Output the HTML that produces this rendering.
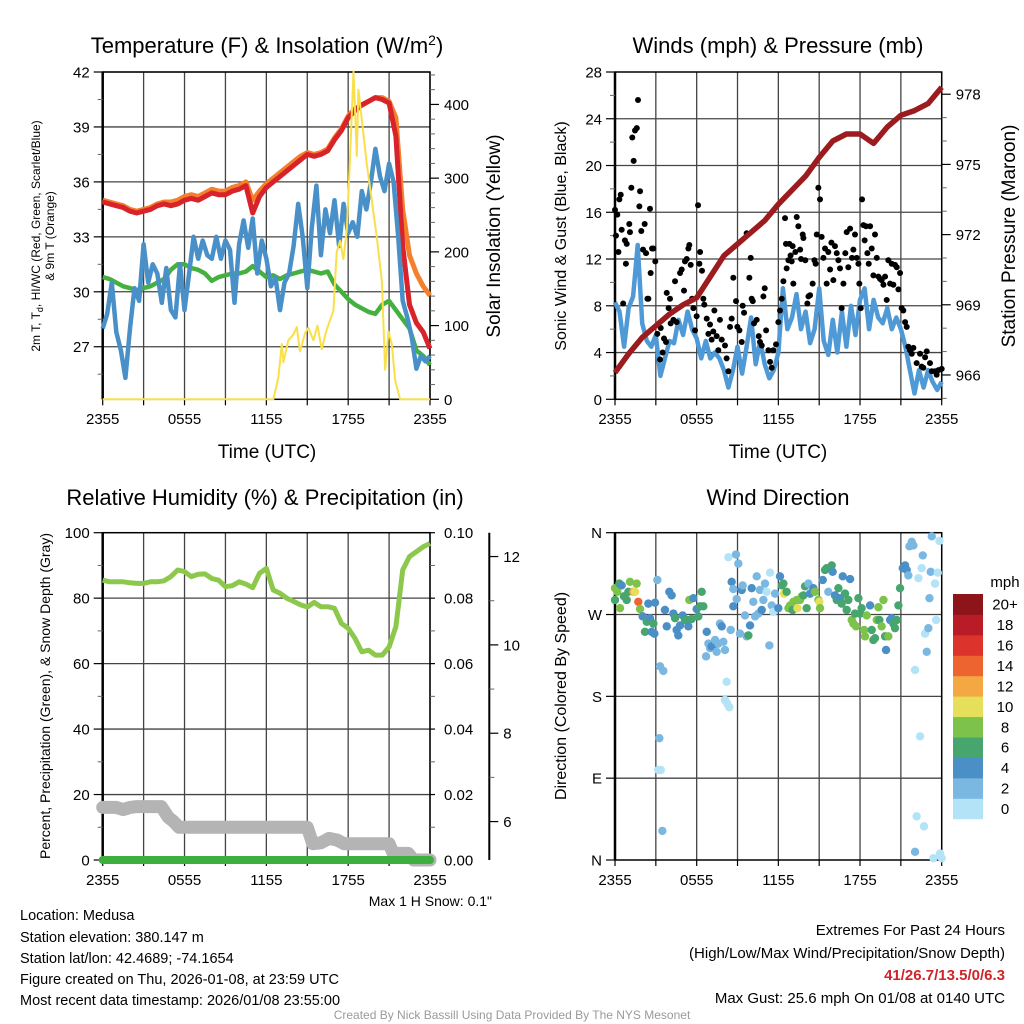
<!DOCTYPE html>
<html><head><meta charset="utf-8"><style>
html,body{margin:0;padding:0;background:#fff}
svg{display:block;font-family:"Liberation Sans",Arial,sans-serif}
</style></head><body>
<svg id="fig" width="1024" height="1024" viewBox="0 0 1024 1024" xmlns="http://www.w3.org/2000/svg">
<rect width="1024" height="1024" fill="#fff"/>
<g id="layer"></g>
<text x="267" y="53" font-size="22" text-anchor="middle">Temperature (F) &amp; Insolation (W/m<tspan dy="-8" font-size="14">2</tspan><tspan dy="8">)</tspan></text>
<text x="778" y="53" font-size="22" text-anchor="middle">Winds (mph) &amp; Pressure (mb)</text>
<text x="265" y="505" font-size="22" text-anchor="middle">Relative Humidity (%) &amp; Precipitation (in)</text>
<text x="778" y="505" font-size="22" text-anchor="middle">Wind Direction</text>
<text x="267" y="458" font-size="19" text-anchor="middle">Time (UTC)</text>
<text x="778" y="458" font-size="19" text-anchor="middle">Time (UTC)</text>
<text transform="translate(40,236) rotate(-90)" font-size="12" text-anchor="middle">2m T, T<tspan dy="3" font-size="9">d</tspan><tspan dy="-3">, HI/WC (Red, Green, Scarlet/Blue)</tspan></text>
<text transform="translate(54,236) rotate(-90)" font-size="12" text-anchor="middle">&amp; 9m T (Orange)</text>
<text transform="translate(500,236) rotate(-90)" font-size="19" text-anchor="middle">Solar Insolation (Yellow)</text>
<text transform="translate(566,236) rotate(-90)" font-size="16" text-anchor="middle">Sonic Wind &amp; Gust (Blue, Black)</text>
<text transform="translate(1015,236) rotate(-90)" font-size="19" text-anchor="middle">Station Pressure (Maroon)</text>
<text transform="translate(50,696) rotate(-90)" font-size="14" text-anchor="middle">Percent, Precipitation (Green), &amp; Snow Depth (Gray)</text>
<text transform="translate(566,696) rotate(-90)" font-size="16" text-anchor="middle">Direction (Colored By Speed)</text>
<text x="1005" y="587" font-size="15" text-anchor="middle">mph</text>
<text x="492" y="906" font-size="14" text-anchor="end">Max 1 H Snow: 0.1"</text>
<g font-size="14.5">
<text x="20" y="920">Location: Medusa</text>
<text x="20" y="942">Station elevation: 380.147 m</text>
<text x="20" y="963">Station lat/lon: 42.4689; -74.1654</text>
<text x="20" y="984">Figure created on Thu, 2026-01-08, at 23:59 UTC</text>
<text x="20" y="1005">Most recent data timestamp: 2026/01/08 23:55:00</text>
</g>
<g font-size="15" text-anchor="end">
<text x="1005" y="935">Extremes For Past 24 Hours</text>
<text x="1005" y="958">(High/Low/Max Wind/Precipitation/Snow Depth)</text>
<text x="1005" y="980" fill="#d0242a" font-weight="bold">41/26.7/13.5/0/6.3</text>
<text x="1005" y="1003">Max Gust: 25.6 mph On 01/08 at 0140 UTC</text>
</g>
<text x="512" y="1019" font-size="12" fill="#9a9a9a" text-anchor="middle">Created By Nick Bassill Using Data Provided By The NYS Mesonet</text>
</svg>
<script>
// ---------- data ----------
const halfHours = [0,0.5,1,1.5,2,2.5,3,3.5,4,4.5,5,5.5,6,6.5,7,7.5,8,8.5,9,9.5,10,10.5,11,11.5,12,12.5,13,13.5,14,14.5,15,15.5,16,16.5,17,17.5,18,18.5,19,19.5,20,20.5,21,21.5,22,22.5,23,23.5,24];
const tempRed = [34.9,34.8,34.7,34.6,34.4,34.3,34.4,34.5,34.7,34.8,34.7,34.8,35.0,35.1,35.0,35.2,35.4,35.3,35.3,35.5,35.6,35.8,34.3,35.2,35.7,36.0,36.3,36.6,36.9,37.2,37.5,37.4,37.5,37.7,38.3,38.8,39.5,39.9,40.2,40.4,40.6,40.5,40.3,38.5,32.5,29.3,28.3,27.8,26.9];
const temp9mOrange = [35.0,34.9,34.8,34.7,34.5,34.4,34.5,34.6,34.8,34.9,34.9,35.0,35.2,35.3,35.2,35.4,35.6,35.5,35.5,35.7,35.8,36.0,35.0,35.5,35.9,36.2,36.5,36.8,37.1,37.4,37.6,37.5,37.6,37.8,38.4,38.9,39.6,40.0,40.2,40.4,40.6,40.6,40.4,39.5,34.5,32.0,31.0,30.3,29.8];
const dewGreen = [30.8,30.7,30.5,30.3,30.2,30.1,30.2,30.3,30.5,30.7,31.2,31.5,31.5,31.3,31.2,31.0,30.6,30.8,30.9,31.0,31.0,31.1,31.4,31.1,30.8,30.9,30.7,30.9,31.0,31.1,31.2,31.1,31.0,31.1,30.4,30.0,29.6,29.3,29.1,28.9,28.8,29.3,29.5,29.0,28.5,28.0,26.8,26.5,26.0];
const windChillBlue = [28.0,28.8,30.5,27.8,26.8,25.3,28.0,30.2,29.5,32.6,30.5,31.5,31.0,29.4,31.3,29.0,28.6,31.5,29.0,31.0,33.0,31.8,32.8,32.0,31.8,33.0,31.8,32.8,32.3,29.4,32.6,33.9,32.4,34.0,31.0,32.8,31.8,30.3,30.8,29.0,30.5,31.0,32.5,34.8,33.0,30.2,33.5,35.8,32.0,34.5,33.2,35.0,32.5,34.8,33.2,33.8,33.0,35.5,34.5,36.0,37.8,36.3,35.5,37.0,36.0,33.0,29.5,28.6,27.5,25.8,26.5,26.2,26.5];
const solarT = [0,12.52,12.88,13.13,13.25,13.61,13.98,14.23,14.47,14.84,15.08,15.45,15.75,16.06,16.43,16.92,17.16,17.41,17.65,17.9,18.14,18.39,18.63,18.75,19.0,19.36,19.73,20.1,20.47,20.71,20.96,21.2,21.45,21.81,24];
const solarV = [0,0,30,75,50,80,88,98,65,90,97,80,100,68,95,120,200,215,190,230,330,445,330,420,380,320,270,220,160,40,92,75,25,0,0];
const hours = [0,1,2,3,4,5,6,7,8,9,10,11,12,13,14,15,16,17,18,19,20,21,22,23,24];
const pressure = [966.1,966.9,967.6,968.1,968.6,969.0,969.3,970.2,971.1,971.6,972.1,972.6,973.3,973.9,974.5,975.3,976.0,976.3,976.3,975.9,976.6,977.1,977.3,977.6,978.3];
const sonicWind = [8.3,7.5,4.5,7.8,8.8,13.2,6.5,5.0,4.5,5.5,2.0,3.5,5.0,4.8,6.8,5.5,7.5,6.0,5.2,3.5,5.0,3.5,4.0,3.5,2.5,1.0,2.5,4.5,2.2,4.5,7.0,3.0,5.0,3.0,1.8,2.5,4.0,9.5,6.0,7.0,9.0,6.0,7.5,4.8,6.0,9.5,5.0,3.8,6.8,4.0,7.5,4.5,8.0,5.5,8.5,9.5,6.0,8.5,7.0,6.5,7.8,6.0,7.0,6.0,4.5,2.5,0.5,2.5,1.0,2.5,1.5,0.8,1.5];
const gustT = [0,0.07,0.17,0.25,0.32,0.42,0.49,0.6,0.73,0.86,0.8,1.05,1.1,1.2,1.27,1.37,1.47,1.6,1.69,1.79,1.84,1.93,2.06,2.18,2.28,2.38,2.45,2.57,2.62,2.72,2.82,2.96,3.11,3.31,3.36,3.5,3.6,3.75,3.8,3.94,4.04,4.09,4.29,4.41,4.53,4.78,4.9,5.07,5.14,5.27,5.39,5.46,5.56,5.66,5.76,5.88,6.0,6.1,6.2,6.25,6.39,6.49,6.56,6.74,6.86,6.98,7.1,7.22,7.3,7.47,7.59,7.71,7.84,8.08,8.2,8.33,8.45,8.57,8.69,8.89,8.99,9.14,9.31,9.38,9.48,9.67,9.87,9.97,10.04,10.12,10.21,10.41,10.56,10.65,10.78,10.9,11.0,11.1,11.27,11.39,11.51,11.63,11.83,12.0,12.12,12.25,12.37,12.49,12.56,12.61,12.74,12.81,12.9,12.98,13.05,13.1,13.25,13.35,13.47,13.6,13.67,13.79,13.84,13.98,14.13,14.21,14.33,14.52,14.65,14.74,14.82,14.94,15.06,15.18,15.31,15.43,15.55,15.67,15.8,15.9,16.04,16.16,16.29,16.41,16.53,16.65,16.78,16.92,17.02,17.14,17.27,17.41,17.51,17.63,17.76,17.88,17.95,18.05,18.15,18.25,18.34,18.44,18.54,18.64,18.74,18.86,18.98,19.1,19.23,19.35,19.47,19.59,19.72,19.84,19.96,20.08,20.21,20.33,20.45,20.57,20.7,20.82,20.94,21.06,21.18,21.31,21.43,21.55,21.67,21.8,21.92,22.16,22.41,22.53,22.65,22.78,22.9,23.14,23.27,23.51,23.63,23.76,24];
const gustV = [16.2,14.0,15.8,12.6,17.1,17.5,14.5,8.2,13.6,13.3,11.6,15.0,14.3,18.1,22.4,20.4,23.0,23.2,25.6,16.5,17.8,14.4,12.8,15.0,12.5,8.6,8.6,16.3,10.8,12.9,12.9,11.8,5.6,3.4,6.1,4.0,5.2,4.9,9.1,7.8,8.6,6.5,6.8,10.1,6.6,10.8,11.1,9.3,11.8,12.0,12.9,13.2,11.5,8.6,7.8,5.9,7.1,16.6,11.6,12.6,11.0,8.6,8.1,6.9,5.6,6.4,5.1,5.8,7.6,5.4,4.2,6.8,5.1,4.6,3.5,2.4,6.2,6.9,10.4,8.4,6.2,5.9,4.9,8.0,7.4,14.2,10.4,12.1,8.6,8.4,6.5,6.8,5.4,4.9,4.6,8.8,9.5,5.9,4.2,3.2,2.7,4.2,4.7,6.6,7.6,8.6,10.1,15.5,13.3,11.2,11.9,13.3,12.3,11.8,13.1,9.9,12.6,15.6,14.8,12.8,12.0,14.1,13.8,11.9,8.2,8.8,8.9,9.9,11.9,11.6,14.1,18.1,17.1,13.9,12.1,12.9,9.9,12.6,11.1,13.4,10.2,13.1,12.5,11.9,11.2,7.8,9.9,12.5,14.3,11.3,14.6,12.1,12.8,14.1,12.1,11.6,9.9,7.8,17.1,14.9,13.6,14.8,12.5,11.6,14.8,12.9,10.6,14.1,12.1,10.5,10.3,10.2,9.8,10.5,8.5,11.9,9.9,11.6,9.8,11.5,11.3,9.4,10.8,7.8,7.6,6.6,6.2,4.5,4.2,3.9,4.4,3.1,3.9,2.8,2.7,3.6,4.1,3.1,2.4,2.4,2.1,2.5,2.6];
const relHumidity = [85.5,85.0,85.0,85.0,84.7,84.5,84.5,85.0,85.0,85.3,86.6,88.6,88.1,86.6,87.3,87.4,86.0,85.5,83.5,83.8,85.0,84.3,83.2,87.6,89.1,82.5,81.5,80.0,79.0,78.0,77.3,78.7,77.4,77.4,76.9,72.3,70.8,67.7,63.6,64.1,62.6,62.6,65.1,71.3,88.6,92.7,94.2,95.7,96.7];
const precipIn = [0,0,0,0,0,0,0,0,0,0,0,0,0,0,0,0,0,0,0,0,0,0,0,0,0];
const snowT = [0,1,1.5,2,2.5,4.3,4.8,5.2,5.6,15.0,15.4,16.0,16.6,17.2,17.7,21.0,21.3,22.4,22.8,24];
const snowV = [6.32,6.32,6.27,6.32,6.34,6.34,6.1,6.0,5.87,5.87,5.5,5.52,5.62,5.58,5.5,5.5,5.28,5.28,5.13,5.13];
const dirT = [0,0,0.17,0.32,0.49,0.37,0.66,0.86,0.98,1.1,1.35,1.59,1.47,1.71,1.84,2.03,2.2,2.33,2.45,2.57,2.69,2.82,2.89,2.94,3.11,3.31,3.55,3.26,3.18,3.36,3.48,3.67,3.8,3.99,4.16,4.29,4.41,4.53,4.65,4.78,4.97,5.14,5.27,5.39,5.46,5.63,5.76,6.0,6.12,6.25,6.37,6.49,6.74,6.86,6.98,7.1,7.22,7.35,7.47,7.59,7.71,7.84,7.96,8.08,6.69,8.2,8.08,8.25,8.4,8.33,8.5,8.69,8.89,9.06,8.57,8.69,8.94,9.18,9.31,9.38,9.55,9.67,9.8,9.92,10.04,10.16,10.29,10.41,10.53,10.65,10.78,10.9,11.02,11.14,11.34,11.39,11.51,11.63,11.76,12.0,12.12,12.25,12.37,12.42,12.61,12.74,12.86,13.05,13.1,13.35,13.4,13.59,13.72,13.84,13.96,14.08,14.21,14.33,14.57,14.69,14.94,15.01,15.06,15.26,15.43,15.55,15.67,15.92,15.99,16.16,16.29,16.41,16.53,16.65,16.73,16.9,17.02,17.14,17.27,17.39,17.51,17.63,17.71,17.88,18.0,18.12,18.3,18.37,18.49,18.74,18.86,18.98,19.1,19.23,19.35,19.42,19.59,19.72,19.84,19.91,20.08,20.21,20.33,20.45,20.57,20.7,20.82,20.94,21.14,21.31,21.43,21.55,21.63,21.8,21.92,22.04,22.16,22.29,22.41,22.53,22.61,22.7,22.78,22.9,23.02,23.1,23.19,23.27,23.39,23.51,23.59,23.71,23.83,23.88,24.0,22.04];
const dirDeg = [299,286,295,304,302,277,290,286,295,306,295,304,295,284,276,268,251,262,282,266,251,260,249,283,308,213,208,134,99,99,32,275,257,295,291,271,266,253,247,258,269,264,264,257,286,265,288,276,268,279,295,279,251,238,233,235,236,242,229,238,260,257,240,231,224,196,176,172,168,333,253,279,336,326,306,298,287,249,297,302,269,246,247,258,299,284,268,312,271,297,275,286,304,295,236,316,280,273,293,277,312,302,304,293,295,277,280,275,284,286,277,286,290,291,301,277,304,293,299,295,286,284,277,308,319,321,295,324,317,291,286,299,288,282,312,293,275,286,309,264,260,271,257,288,271,277,253,246,269,280,253,242,244,264,278,264,257,286,246,231,246,264,266,260,255,264,280,299,321,324,319,313,345,350,346,209,48,310,136,321,335,37,249,229,255,288,317,356,2,304,264,316,351,7,2,9];
const dirSpd = [9,7,9,7,5,9,7,7,7,9,13,9,11,15,9,5,7,7,5,5,5,7,5,5,3,3,3,3,1,1,3,5,5,5,5,5,7,5,5,5,5,7,7,5,9,7,5,5,7,7,7,7,5,3,3,5,5,3,3,3,3,5,3,3,3,1,1,1,1,1,3,5,3,3,5,3,3,3,5,3,3,3,7,5,5,3,3,3,3,3,5,3,3,1,3,1,3,1,3,5,5,7,7,11,7,9,9,7,9,9,11,9,9,7,7,7,3,5,5,9,9,11,9,5,7,7,3,7,5,5,7,7,5,7,5,7,7,7,5,9,9,7,9,7,7,7,9,9,9,5,7,7,7,9,9,7,9,9,7,5,9,5,5,7,7,7,7,7,5,5,5,3,3,3,3,1,1,1,1,1,3,1,1,3,3,3,3,3,1,1,1,1,1,1,1,3];
const speedBinLabels = ['0','2','4','6','8','10','12','14','16','18','20+'];
const speedBinColors = ['#b3e3f7','#7ab8e2','#4a8fc6','#47a56e','#7dc24a','#e5df5a','#f4a844','#ee6430','#dc332c','#ba1c27','#8d1519'];
const timeTickLabels = ['2355','0555','1155','1755','2355'];
const tempTicks = [27,30,33,36,39,42];
const solarTicks = [0,100,200,300,400];
const windTicks = [0,4,8,12,16,20,24,28];
const pressTicks = [966,969,972,975,978];
const rhTicks = [0,20,40,60,80,100];
const precipTicks = [0,0.02,0.04,0.06,0.08,0.10];
const snowTicks = [6,8,10,12];
const dirTickLabels = ['N','E','S','W','N'];
const dirTickValues = [0,90,180,270,360];

// ---------- scales ----------
const P1 = {l:102.7, r:430, t:72, b:399.3};
const P2 = {l:615, r:941.7, t:72, b:399.3};
const P3 = {l:102.7, r:430, t:532.7, b:860};
const P4 = {l:615, r:941.7, t:532.7, b:860};
const xS = (p,t)=> p.l + t*(p.r-p.l)/24;
const yLin = (p,lo,hi)=> v => p.b - (v-lo)*(p.b-p.t)/(hi-lo);
const yTemp = yLin(P1,24.13,42), ySolar = yLin(P1,0,444);
const yWind = yLin(P2,0,28), yPress = yLin(P2,964.96,978.95);
const yRH = yLin(P3,0,100), yPrecip = yLin(P3,0,0.1), ySnow = yLin(P3,5.13,12.54);
const yDir = yLin(P4,0,360);

const NS='http://www.w3.org/2000/svg';
const layer=document.getElementById('layer');
function mk(tag,attrs,parent){const e=document.createElementNS(NS,tag);for(const k in attrs)e.setAttribute(k,attrs[k]);(parent||layer).appendChild(e);return e;}
function txt(x,y,s,size,anchor,parent){const e=mk('text',{x:x,y:y,'font-size':size,'text-anchor':anchor},parent);e.textContent=s;return e;}

function frame(p,name,hLines,vLabelsY){
  const g=mk('g',{});
  
  
  for(let i=0;i<=8;i++){const x=xS(p,i*3);
    const l=mk('line',{x1:x,x2:x,y1:p.t,y2:p.b,stroke:'#444','stroke-width':1.3},g);
    
    
    mk('line',{x1:x,x2:x,y1:p.b,y2:p.b+6,stroke:'#000','stroke-width':1.2},g);
  }
  hLines.forEach(y=>{const l=mk('line',{x1:p.l,x2:p.r,y1:y,y2:y,stroke:'#444','stroke-width':1.3},g);
    
    });
  timeTickLabels.forEach((s,i)=>{const t=txt(xS(p,i*6),vLabelsY,s,15,'middle',g);
    
    });
  const r=mk('rect',{x:p.l,y:p.t,width:p.r-p.l,height:p.b-p.t,fill:'none',stroke:'#000','stroke-width':1.5},g);
  
  
  mk('line',{x1:p.l,x2:p.l,y1:p.t,y2:p.b,stroke:'#000','stroke-width':2.5},g);
  return g;
}
function yAxis(p,x,ticks,ys,labels,side,minorVals,yfn,name,len){
  const g=mk('g',{});
  
  
  const d=side==='left'?-1:1;
  ticks.forEach((v,i)=>{const y=yfn(v);
    mk('line',{x1:x,x2:x+d*(len||9),y1:y,y2:y,stroke:'#000','stroke-width':1.2},g);
    const t=txt(x+d*(side==='left'?13:14),y+5.5,labels[i],15,side==='left'?'end':'start',g);
    
    });
  (minorVals||[]).forEach(v=>{const y=yfn(v);mk('line',{x1:x,x2:x+d*5,y1:y,y2:y,stroke:'#666','stroke-width':1},g);});
}
function range(a,b,s){const r=[];for(let v=a;v<=b+1e-9;v+=s)r.push(+v.toFixed(4));return r;}
function pathD(ts,vs,xp,yf){return ts.map((t,i)=>(i?'L':'M')+xS(xp,t).toFixed(1)+','+yf(vs[i]).toFixed(1)).join('');}

// ---------- Panel 1 ----------
frame(P1,'temperature',tempTicks.map(yTemp),424);
yAxis(P1,P1.l,tempTicks,null,tempTicks.map(String),'left',range(25.5,40.5,3),yTemp,'temperature-y-axis');
yAxis(P1,P1.r,solarTicks,null,solarTicks.map(String),'right',range(20,440,20).filter(v=>v%100),ySolar,'solar-y-axis');
const blueT = windChillBlue.map((v,i)=>i/3);
let e;
e=mk('path',{d:pathD(halfHours,temp9mOrange,P1,yTemp),fill:'none',stroke:'#f47f2d','stroke-width':5,'stroke-linejoin':'round'});


e=mk('path',{d:pathD(halfHours,tempRed,P1,yTemp),fill:'none',stroke:'#d8232a','stroke-width':5,'stroke-linejoin':'round'});


e=mk('path',{d:pathD(halfHours,dewGreen,P1,yTemp),fill:'none',stroke:'#44b13f','stroke-width':4.5,'stroke-linejoin':'round'});


e=mk('path',{d:pathD(blueT,windChillBlue,P1,yTemp),fill:'none',stroke:'#4a90c8','stroke-width':4.5,'stroke-linejoin':'round'});


e=mk('path',{d:pathD(solarT,solarV,P1,ySolar),fill:'none',stroke:'#f9e04a','stroke-width':2,'stroke-linejoin':'round'});



// ---------- Panel 2 ----------
frame(P2,'winds',windTicks.slice(1,7).map(yWind),424);
yAxis(P2,P2.l,windTicks,null,windTicks.map(String),'left',range(2,26,4),yWind,'wind-y-axis');
yAxis(P2,P2.r,pressTicks,null,pressTicks.map(String),'right',range(965,978,1).filter(v=>(v-966)%3),yPress,'pressure-y-axis');
e=mk('path',{d:pathD(blueT,sonicWind,P2,yWind),fill:'none',stroke:'#4f9ad6','stroke-width':4.5,'stroke-linejoin':'round'});


gustT.forEach((t,i)=>{const c=mk('circle',{cx:xS(P2,t),cy:yWind(gustV[i]),r:3,fill:'#000'});
  
  });
e=mk('path',{d:pathD(hours,pressure,P2,yPress),fill:'none',stroke:'#9b1b1e','stroke-width':5.5,'stroke-linejoin':'round'});



// ---------- Panel 3 ----------
frame(P3,'humidity',rhTicks.slice(1,5).map(yRH),885);
yAxis(P3,P3.l,rhTicks,null,rhTicks.map(String),'left',range(10,90,20),yRH,'humidity-y-axis');
yAxis(P3,P3.r,precipTicks,null,precipTicks.map(v=>v.toFixed(2)),'right',range(0.01,0.09,0.02),yPrecip,'precip-y-axis',5);
e=mk('line',{x1:489.3,x2:489.3,y1:P3.t,y2:P3.b,stroke:'#000','stroke-width':2});


yAxis(P3,489.3,snowTicks,null,snowTicks.map(String),'right',[7,9,11],ySnow,'snow-depth-y-axis');
e=mk('path',{d:pathD(snowT,snowV,P3,ySnow),fill:'none',stroke:'#b4b4b4','stroke-width':13,'stroke-linejoin':'round','stroke-linecap':'round'});


e=mk('path',{d:pathD(hours,precipIn,P3,yPrecip),fill:'none',stroke:'#3daf3f','stroke-width':8,'stroke-linecap':'round'});


e=mk('path',{d:pathD(halfHours,relHumidity,P3,yRH),fill:'none',stroke:'#8cc84b','stroke-width':5,'stroke-linejoin':'round'});



// ---------- Panel 4 ----------
frame(P4,'direction',dirTickValues.slice(1,4).map(yDir),885);
yAxis(P4,P4.l,dirTickValues,null,dirTickLabels,'left',[],yDir,'direction-y-axis');
function binColor(s){let i=Math.floor(s/2);if(i>10)i=10;return speedBinColors[i];}
dirT.forEach((t,i)=>{const c=mk('circle',{cx:xS(P4,t),cy:yDir(dirDeg[i]),r:4.2,fill:binColor(dirSpd[i])});
  
  });
const cb=mk('g',{});


const cbTop=594, cbH=20.43;
speedBinLabels.forEach((s,i)=>{const y=cbTop+(10-i)*cbH;
  const r=mk('rect',{x:953,y:y,width:30,height:cbH+0.5,fill:speedBinColors[i]},cb);
  
  
  const t=txt(1005,y+cbH/2+5.5,s,15,'middle',cb);
  
  });
</script>
</body></html>
